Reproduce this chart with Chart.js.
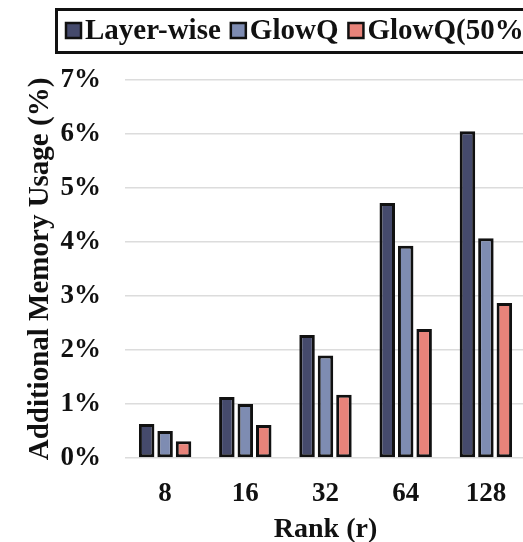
<!DOCTYPE html>
<html>
<head>
<meta charset="utf-8">
<script src="https://cdn.jsdelivr.net/npm/chart.js@4.4.1/dist/chart.umd.min.js"></script>
<style>
  html, body { margin: 0; padding: 0; background: #fff; overflow: hidden; }
  #wrap { width: 530px; height: 542px; position: relative; }
</style>
</head>
<body>
<div id="wrap"><canvas id="c"></canvas></div>
<script>
const categories = ['8', '16', '32', '64', '128'];
const seriesNames = ['Layer-wise', 'GlowQ', 'GlowQ(50%)'];
const layerWise = [0.63, 1.13, 2.28, 4.72, 6.05];
const glowQ = [0.50, 1.00, 1.90, 3.93, 4.07];
const glowQ50 = [0.31, 0.61, 1.17, 2.39, 2.87];
const yTickValues = [0, 1, 2, 3, 4, 5, 6, 7];
const colors = ['#454a6c', '#7e8cb2', '#e8837a'];

const FONT = "'Liberation Serif', 'Times New Roman', serif";

const legendPlugin = {
  id: 'boxLegend',
  afterDraw(chart) {
    const ctx = chart.ctx;
    ctx.save();
    ctx.lineWidth = 3;
    ctx.strokeStyle = '#111';
    ctx.strokeRect(56.5, 9.5, 520, 43);
    ctx.font = 'bold 29px ' + FONT;
    ctx.textBaseline = 'middle';
    ctx.textAlign = 'left';
    let x = 66;
    chart.data.datasets.forEach((ds) => {
      ctx.fillStyle = ds.backgroundColor;
      ctx.fillRect(x, 23, 15, 15);
      ctx.lineWidth = 2.5;
      ctx.strokeStyle = '#111';
      ctx.strokeRect(x, 23, 15, 15);
      ctx.fillStyle = '#111';
      ctx.fillText(ds.label, x + 19, 32);
      x += 19 + ctx.measureText(ds.label).width + 10;
    });
    ctx.restore();
  }
};

new Chart(document.getElementById('c'), {
  type: 'bar',
  data: {
    labels: categories,
    datasets: [
      { label: seriesNames[0], data: layerWise, backgroundColor: colors[0] },
      { label: seriesNames[1], data: glowQ, backgroundColor: colors[1] },
      { label: seriesNames[2], data: glowQ50, backgroundColor: colors[2] }
    ].map(d => Object.assign(d, {
      borderColor: '#111',
      borderWidth: 3,
      borderSkipped: false,
      categoryPercentage: 0.69,
      barPercentage: 0.84
    }))
  },
  options: {
    responsive: true,
    maintainAspectRatio: false,
    animation: false,
    layout: { padding: { top: 80, left: 23, right: 4, bottom: 0 } },
    plugins: { legend: { display: false }, tooltip: { enabled: false } },
    scales: {
      x: {
        grid: { display: false, drawTicks: false },
        border: { display: false },
        ticks: { color: '#111', font: { family: FONT, size: 27, weight: 'bold' }, padding: 20 },
        title: { display: true, text: 'Rank (r)', color: '#111', font: { family: FONT, size: 28, weight: 'bold' }, padding: { top: 0, bottom: -5 } },
        afterFit(s) { s.height = 84; }
      },
      y: {
        min: 0,
        max: 7,
        afterBuildTicks(s) { s.ticks = yTickValues.map(v => ({ value: v })); },
        grid: { color: '#dcdcdc', lineWidth: 1.5, drawTicks: false },
        border: { display: false },
        ticks: { color: '#111', font: { family: FONT, size: 27, weight: 'bold' }, padding: 24, callback: v => v + '%' },
        title: { display: true, text: 'Additional Memory Usage (%)', color: '#111', font: { family: FONT, size: 29, weight: 'bold' }, padding: { top: 0, bottom: 0 } },
        afterFit(s) { s.width = 102; }
      }
    }
  },
  plugins: [legendPlugin]
});
</script>
</body>
</html>
